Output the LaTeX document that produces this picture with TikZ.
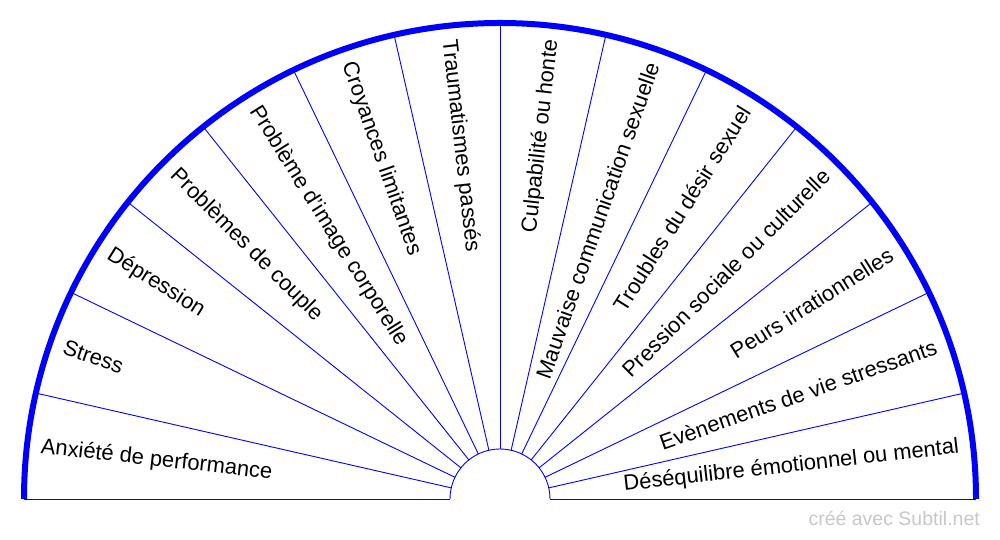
\documentclass[tikz,border=0pt]{standalone}
\usepackage{fontspec}
\setmainfont{Liberation Sans}
\begin{document}
\begin{tikzpicture}[x=1pt,y=1pt,
  spoke/.style={draw=blue,line width=0.9pt},
  rim/.style={draw=blue,line width=6pt},
  lbl/.style={inner sep=0pt,font=\fontsize{21.9}{24}\selectfont,text=black},
  wmark/.style={inner sep=0pt,font=\fontsize{19.5}{22}\selectfont,text=black!22}]
\useasboundingbox (0,0) rectangle (1000,540);
\coordinate (c) at (500,41);
\begin{scope}[shift={(c)}]
  % spokes
  \foreach \k in {0,...,14}{
    \pgfmathsetmacro\ang{180-\k*180/14}
    \coordinate (in\k) at (\ang:50);
    \coordinate (out\k) at (\ang:476);
    \draw[spoke] (in\k) -- (out\k);
  }
  % inner arc
  \draw[spoke] (in0) arc[start angle=180,end angle=0,radius=50];
  % outer rim
  \draw[rim] (out0) arc[start angle=180,end angle=0,radius=476];
  % labels
  \foreach \t [count=\i from 0] in {Anxiété de performance,Stress,Dépression,Problèmes de couple,Problème d'image corporelle,Croyances limitantes,Traumatismes passés,Culpabilité ou honte,Mauvaise communication sexuelle,Troubles du désir sexuel,Pression sociale ou culturelle,Peurs irrationnelles,Evènements de vie stressants,Déséquilibre émotionnel ou mental}{
    \pgfmathsetmacro\ang{180-(\i+0.5)*180/14}
    \ifnum\i<7
      \pgfmathsetmacro\rot{\ang-180}
      \node[lbl,anchor=west,rotate=\rot] (lab\i) at (\ang:462) {\t};
    \else
      \node[lbl,anchor=east,rotate=\ang] (lab\i) at (\ang:462) {\t};
    \fi
  }
\end{scope}
\node[wmark,anchor=base east] (wm) at (980,14) {créé avec Subtil.net};
\end{tikzpicture}
\end{document}
